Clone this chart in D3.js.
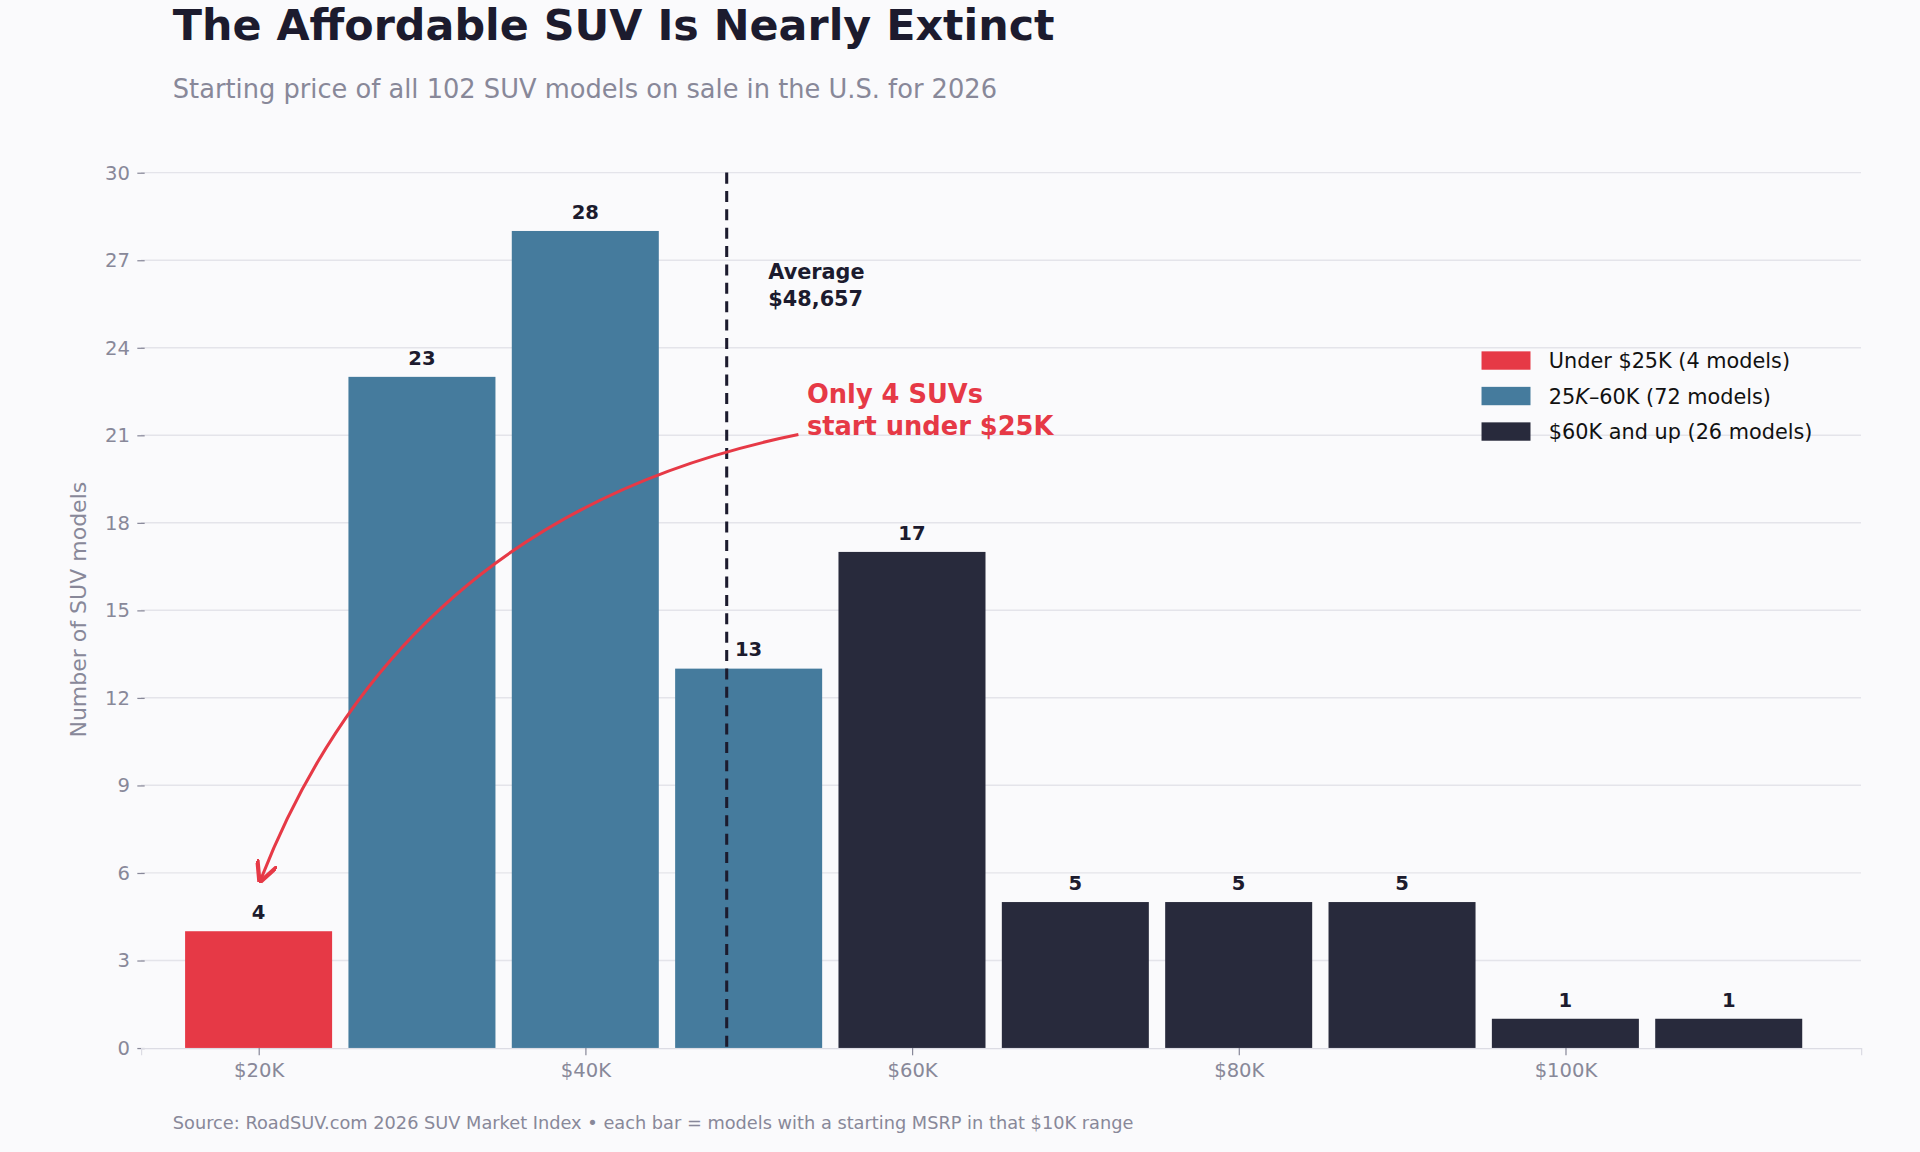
<!DOCTYPE html>
<html><head><meta charset="utf-8">
<script src="https://cdn.jsdelivr.net/npm/d3@7"></script>
<style>body{margin:0;background:#fafafc;font-family:"DejaVu Sans",sans-serif}</style>
</head><body>
<svg id="chart" width="1920" height="1152" viewBox="0 0 1568 941"></svg>
<script>
const binStarts = [20, 30, 40, 50, 60, 70, 80, 90, 100, 110];
const counts = [4, 23, 28, 13, 17, 5, 5, 5, 1, 1];
const groups = ["low", "mid", "mid", "mid", "high", "high", "high", "high", "high", "high"];
const xTicks = [20, 40, 60, 80, 100];
const yTicks = [0, 3, 6, 9, 12, 15, 18, 21, 24, 27, 30];
const avgPrice = 48.657;
const colors = { low: "#e63946", mid: "#457b9d", high: "#282a3c" };
const legendItems = [
  { key: "low", label: "Under $25K (4 models)" },
  { key: "mid", label: null },
  { key: "high", label: "$60K and up (26 models)" }
];

const svg = d3.select("#chart");
svg.append("rect").attr("width", 1568).attr("height", 941).attr("fill", "#fafafc");

const x = d3.scaleLinear().domain([12.8, 118.1]).range([115, 1520]);
const y = d3.scaleLinear().domain([0, 30]).range([856, 141]);

// grid
svg.append("g").selectAll("line").data(yTicks.slice(1)).enter().append("line")
  .attr("x1", 115).attr("x2", 1520).attr("y1", d => y(d)).attr("y2", d => y(d))
  .attr("stroke", "#e4e4ea").attr("stroke-width", 1.2);

// axes
const yAxis = svg.append("g").attr("transform", "translate(118,0)")
  .call(d3.axisLeft(y).tickValues(yTicks).tickSize(6).tickPadding(6));
yAxis.select(".domain").remove();
yAxis.selectAll("line").attr("stroke", "#888899");
yAxis.selectAll("text").attr("fill", "#888899").style("font-size", "16px").style("font-family", "DejaVu Sans");

const xAxis = svg.append("g").attr("transform", "translate(0,856)")
  .call(d3.axisBottom(x).tickValues(xTicks).tickFormat(d => `$${d}K`).tickSize(6).tickPadding(6));
xAxis.select(".domain").attr("stroke", "#dcdce4");
xAxis.selectAll("line").attr("stroke", "#888899");
xAxis.selectAll("text").attr("fill", "#888899").style("font-size", "16px").style("font-family", "DejaVu Sans");

// bars
const bw = x(9) - x(0);
svg.append("g").selectAll("rect").data(binStarts).enter().append("rect")
  .attr("x", d => x(d) - bw / 2).attr("width", bw)
  .attr("y", (d, i) => y(counts[i])).attr("height", (d, i) => y(0) - y(counts[i]))
  .attr("fill", (d, i) => colors[groups[i]]);

svg.append("g").selectAll("text").data(binStarts).enter().append("text")
  .attr("x", d => x(d)).attr("y", (d, i) => y(counts[i]) - 10)
  .attr("text-anchor", "middle").attr("font-weight", "bold").attr("font-size", 16).attr("fill", "#1c1b2e")
  .text((d, i) => counts[i]);

// average line
svg.append("line").attr("x1", x(avgPrice)).attr("x2", x(avgPrice)).attr("y1", y(30)).attr("y2", y(0))
  .attr("stroke", "#1c1b2e").attr("stroke-width", 2.5).attr("stroke-dasharray", "9,6");
const avgT = svg.append("text").attr("x", x(avgPrice) + 34).attr("y", 228)
  .attr("font-weight", "bold").attr("font-size", 17).attr("fill", "#1c1b2e");
avgT.append("tspan").attr("x", x(avgPrice) + 34).text("Average");
avgT.append("tspan").attr("x", x(avgPrice) + 34).attr("dy", 22).text("$48,657");

// annotation
svg.append("defs").append("marker").attr("id", "ah").attr("viewBox", "0 0 10 10")
  .attr("refX", 8).attr("refY", 5).attr("markerWidth", 7).attr("markerHeight", 7).attr("orient", "auto")
  .append("path").attr("d", "M0,0 L10,5 L0,10").attr("fill", "none").attr("stroke", "#e63946").attr("stroke-width", 2);
svg.append("path").attr("d", `M652,355 Q330,420 ${x(20) + 2},${y(5.8)}`)
  .attr("fill", "none").attr("stroke", "#e63946").attr("stroke-width", 2.5).attr("marker-end", "url(#ah)");
const ann = svg.append("text").attr("font-weight", "bold").attr("font-size", 21).attr("fill", "#e63946");
ann.append("tspan").attr("x", 659).attr("y", 329).text("Only 4 SUVs");
ann.append("tspan").attr("x", 659).attr("dy", 26).text("start under $25K");

// legend
const lg = svg.append("g").attr("transform", "translate(1210,287)");
legendItems.forEach((it, i) => {
  const row = lg.append("g").attr("transform", `translate(0,${i * 29})`);
  row.append("rect").attr("width", 40).attr("height", 15).attr("fill", colors[it.key]);
  const t = row.append("text").attr("x", 55).attr("y", 14).attr("font-size", 17).attr("fill", "#111");
  if (it.label) t.text(it.label);
  else {
    t.append("tspan").text("25");
    t.append("tspan").attr("font-style", "italic").text("K");
    t.append("tspan").text("–60K (72 models)");
  }
});

// titles
svg.append("text").attr("x", 141).attr("y", 33).attr("font-size", 35).attr("font-weight", "bold")
  .attr("fill", "#1c1b2e").text("The Affordable SUV Is Nearly Extinct");
svg.append("text").attr("x", 141).attr("y", 80).attr("font-size", 21).attr("fill", "#888899")
  .text("Starting price of all 102 SUV models on sale in the U.S. for 2026");
svg.append("text").attr("transform", "translate(70,498) rotate(-90)").attr("text-anchor", "middle")
  .attr("font-size", 18).attr("fill", "#888899").text("Number of SUV models");
svg.append("text").attr("x", 141).attr("y", 922).attr("font-size", 14.5).attr("fill", "#888899")
  .text("Source: RoadSUV.com 2026 SUV Market Index  •  each bar = models with a starting MSRP in that $10K range");
</script>
</body></html>
